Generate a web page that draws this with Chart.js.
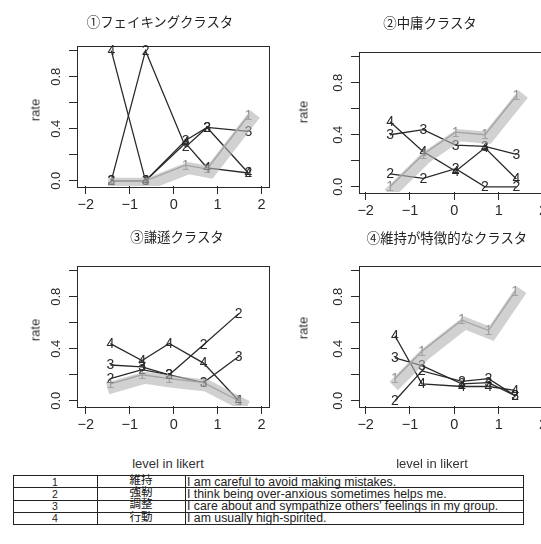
<!DOCTYPE html>
<html>
<head>
<meta charset="utf-8">
<script src="https://cdn.jsdelivr.net/npm/chart.js@4.4.1/dist/chart.umd.min.js"></script>
<style>
  html, body { margin: 0; padding: 0; background: #fff; }
  body { width: 541px; height: 544px; overflow: hidden; position: relative;
         font-family: "Liberation Sans", Arial, sans-serif; color: #222; }
  .panel { position: absolute; }
  .panel canvas { display: block; }
  .title { position: absolute; white-space: nowrap; transform: translate(-50%, -50%);
           font-family: "Noto Sans CJK JP", sans-serif; font-size: 13.4px; color: #222; }
  .ylab { position: absolute; white-space: nowrap; font-size: 13px; color: #333;
          transform: translate(-50%, -50%) rotate(-90deg); }
  .xlab { position: absolute; white-space: nowrap; font-size: 13px; color: #333;
          transform: translate(-50%, -50%); }
  .keyrow { position: absolute; left: 13px; width: 510px; height: 12.3px; }
  .cell { position: absolute; top: 0; height: 12.3px; line-height: 12.3px; white-space: nowrap;
          box-sizing: border-box; }
  .cell.id { text-align: center; font-family: "Liberation Sans Narrow", "Liberation Sans", sans-serif;
             font-size: 10.5px; top: 0.5px; }
  .cell.name { text-align: center; font-family: "Noto Sans CJK JP", sans-serif; font-size: 11.5px;
               top: -2.2px; color: #111; }
  .cell.text { padding-left: 2px; font-size: 12.3px; top: 0.5px; }
  .rule { position: absolute; background: #222; }
</style>
</head>
<body>
<script>
// Axis ticks shared by all four cluster panels
const xTickValues = [-2, -1, 0, 1, 2];
const yTickValues = [0, 0.2, 0.4, 0.6, 0.8, 1.0];
const yTickLabelled = [0, 0.4, 0.8];

const clusterTitles = ['①フェイキングクラスタ', '②中庸クラスタ', '③謙遜クラスタ', '④維持が特徴的なクラスタ'];
const itemIds = ['1', '2', '3', '4'];
const itemNames = ['維持', '強靭', '調整', '行動'];
const itemTexts = [
  'I am careful to avoid making mistakes.',
  'I think being over-anxious sometimes helps me.',
  'I care about and sympathize others\u2019 feelings in my group.',
  'I am usually high-spirited.'
];

// ① faking cluster: response rate per likert level for items 1-4
const fakingLevels = [-1.42, -0.64, 0.27, 0.76, 1.70];
const fakingItem1 = [0.00, 0.00, 0.12, 0.09, 0.50];
const fakingItem2 = [0.00, 1.00, 0.26, 0.41, 0.06];
const fakingItem3 = [0.00, 0.00, 0.31, 0.41, 0.38];
const fakingItem4 = [1.00, 0.00, 0.29, 0.10, 0.06];

// ② moderate cluster
const moderateLevels = [-1.45, -0.70, 0.03, 0.69, 1.40];
const moderateItem1 = [0.00, 0.25, 0.42, 0.40, 0.70];
const moderateItem2 = [0.10, 0.065, 0.14, 0.00, 0.00];
const moderateItem3 = [0.40, 0.44, 0.32, 0.31, 0.25];
const moderateItem4 = [0.50, 0.27, 0.12, 0.30, 0.06];

// ③ modest cluster
const modestLevels = [-1.44, -0.72, -0.10, 0.68, 1.48];
const modestItem1 = [0.13, 0.20, 0.17, 0.14, 0.00];
const modestItem2 = [0.17, 0.24, 0.20, 0.43, 0.67];
const modestItem3 = [0.275, 0.26, 0.20, 0.14, 0.34];
const modestItem4 = [0.44, 0.31, 0.44, 0.29, 0.00];

// ④ cluster characterised by "maintain"
const maintainLevels = [-1.34, -0.73, 0.17, 0.77, 1.37];
const maintainItem1 = [0.17, 0.38, 0.62, 0.54, 0.84];
const maintainItem2 = [0.00, 0.23, 0.15, 0.17, 0.04];
const maintainItem3 = [0.33, 0.27, 0.13, 0.14, 0.04];
const maintainItem4 = [0.50, 0.13, 0.11, 0.11, 0.08];

// Page geometry of each panel: canvas rectangle, plot box, x range, text anchors
const panels = [
  { levels: fakingLevels, items: [fakingItem1, fakingItem2, fakingItem3, fakingItem4],
    canvas: [0, 0, 280, 225], box: [77, 45.5, 269, 186], xr: [-2.2, 2.17],
    title: [160, 21], ylab: [35, 110], xlab: null },
  { levels: moderateLevels, items: [moderateItem1, moderateItem2, moderateItem3, moderateItem4],
    canvas: [280, 0, 290, 230], box: [359, 51.5, 551, 192], xr: [-2.15, 2.18],
    title: [430, 22], ylab: [303, 112], xlab: null },
  { levels: modestLevels, items: [modestItem1, modestItem2, modestItem3, modestItem4],
    canvas: [0, 225, 280, 225], box: [77, 265.5, 269, 406], xr: [-2.2, 2.17],
    title: [177, 236], ylab: [35, 330], xlab: [168, 463] },
  { levels: maintainLevels, items: [maintainItem1, maintainItem2, maintainItem3, maintainItem4],
    canvas: [280, 225, 290, 225], box: [359, 265.5, 551, 406], xr: [-2.15, 2.18],
    title: [447, 237], ylab: [303, 328], xlab: [432, 463] }
];

const Y_AXIS_W = 40, X_AXIS_H = 30;
const INK = '#2a2a2a';
const GREY_LINE = '#8c8c8c';
const FONT = '"Liberation Sans", Arial, sans-serif';

// Item numbers used as point symbols
const digitPlugin = {
  id: 'digits',
  afterDatasetsDraw(chart) {
    const ctx = chart.ctx;
    ctx.save();
    ctx.font = '14px ' + FONT;
    ctx.textAlign = 'center';
    ctx.textBaseline = 'middle';
    chart.data.datasets.forEach((ds, i) => {
      ctx.fillStyle = ds.borderColor;
      chart.getDatasetMeta(i).data.forEach(p => ctx.fillText(ds.label, p.x, p.y + 0.5));
    });
    ctx.restore();
  }
};

// Broad translucent band laid over the item 1 trace
const bandPlugin = {
  id: 'band',
  afterDatasetsDraw(chart) {
    const pts = chart.getDatasetMeta(0).data;
    const a = chart.chartArea;
    const ctx = chart.ctx;
    ctx.save();
    ctx.beginPath();
    ctx.rect(a.left, a.top, a.right - a.left, a.bottom - a.top);
    ctx.clip();
    ctx.translate(3, 3);
    ctx.beginPath();
    pts.forEach((p, i) => i ? ctx.lineTo(p.x, p.y) : ctx.moveTo(p.x, p.y));
    ctx.lineWidth = 12;
    ctx.lineCap = 'square';
    ctx.lineJoin = 'miter';
    ctx.strokeStyle = 'rgba(178,178,178,0.6)';
    ctx.stroke();
    ctx.restore();
  }
};

// Frame round the plot region
const framePlugin = {
  id: 'frame',
  afterDraw(chart) {
    const a = chart.chartArea, ctx = chart.ctx;
    ctx.save();
    ctx.strokeStyle = INK;
    ctx.lineWidth = 1;
    ctx.strokeRect(Math.round(a.left) + 0.5, Math.round(a.top) + 0.5,
                   Math.round(a.right - a.left), Math.round(a.bottom - a.top));
    ctx.restore();
  }
};

function addText(cls, text, pos) {
  const d = document.createElement('div');
  d.className = cls;
  d.textContent = text;
  d.style.left = pos[0] + 'px';
  d.style.top = pos[1] + 'px';
  document.body.appendChild(d);
}

function tickGrid() {
  return { display: true, drawOnChartArea: false, drawTicks: true, tickLength: 8,
           color: INK, lineWidth: 1 };
}

panels.forEach((p, k) => {
  const [cx, cy, cw, ch] = p.canvas;
  const [bl, bt, br, bb] = p.box;
  const div = document.createElement('div');
  div.className = 'panel';
  div.style.left = cx + 'px';
  div.style.top = cy + 'px';
  const cv = document.createElement('canvas');
  cv.width = cw; cv.height = ch;
  cv.style.width = cw + 'px'; cv.style.height = ch + 'px';
  div.appendChild(cv);
  document.body.appendChild(div);

  const datasets = p.items.map((vals, i) => ({
    label: itemIds[i],
    data: p.levels.map((x, j) => ({ x: x, y: vals[j] })),
    borderColor: i === 0 ? GREY_LINE : INK,
    borderWidth: 1.3,
    pointRadius: 0,
    tension: 0,
    fill: false
  }));

  new Chart(cv, {
    type: 'line',
    data: { datasets: datasets },
    plugins: [digitPlugin, bandPlugin, framePlugin],
    options: {
      responsive: false,
      animation: false,
      devicePixelRatio: 1,
      layout: { padding: {
        left: bl - cx - Y_AXIS_W,
        top: bt - cy,
        right: cx + cw - br,
        bottom: cy + ch - bb - X_AXIS_H
      } },
      plugins: { legend: { display: false }, tooltip: { enabled: false }, title: { display: false } },
      scales: {
        x: {
          type: 'linear', position: 'bottom', min: p.xr[0], max: p.xr[1],
          afterBuildTicks: s => { s.ticks = xTickValues.map(v => ({ value: v })); },
          afterFit: s => { s.height = X_AXIS_H; },
          grid: tickGrid(),
          border: { display: false },
          ticks: { autoSkip: false, maxRotation: 0, padding: 2, color: INK,
                   font: { size: 14.5, family: FONT },
                   callback: v => (v < 0 ? '\u2212' + Math.abs(v) : String(v)) }
        },
        y: {
          type: 'linear', position: 'left', min: -0.04, max: 1.04,
          afterBuildTicks: s => { s.ticks = yTickValues.map(v => ({ value: v })); },
          afterFit: s => { s.width = Y_AXIS_W; },
          grid: tickGrid(),
          border: { display: false },
          ticks: { autoSkip: false, minRotation: 90, maxRotation: 90, crossAlign: 'center',
                   padding: 4, color: INK, font: { size: 13, family: FONT },
                   callback: v => (yTickLabelled.includes(v) ? v.toFixed(1) : '') }
        }
      }
    }
  });

  addText('title', clusterTitles[k], p.title);
  addText('ylab', 'rate', p.ylab);
  if (p.xlab) addText('xlab', 'level in likert', p.xlab);
});

// Item key table: four rows of id, short name and item wording
const keyTop = 475, rowH = 12.3, keyLeft = 13, colEdges = [0, 84, 172, 510];
itemIds.forEach((id, i) => {
  const row = document.createElement('div');
  row.className = 'keyrow';
  row.style.top = (keyTop + i * rowH) + 'px';
  [[id, 'id'], [itemNames[i], 'name'], [itemTexts[i], 'text']].forEach(([t, c], j) => {
    const cell = document.createElement('div');
    cell.className = 'cell ' + c;
    cell.style.left = colEdges[j] + 'px';
    cell.style.width = (colEdges[j + 1] - colEdges[j]) + 'px';
    cell.textContent = t;
    row.appendChild(cell);
  });
  document.body.appendChild(row);
});
function rule(x, y, w, h) {
  const r = document.createElement('div');
  r.className = 'rule';
  Object.assign(r.style, { left: x + 'px', top: y + 'px', width: w + 'px', height: h + 'px' });
  document.body.appendChild(r);
}
for (let i = 0; i <= itemIds.length; i++) rule(keyLeft, Math.round(keyTop + i * rowH), 510, 1);
colEdges.forEach(e => rule(keyLeft + e, keyTop, 1, Math.round(itemIds.length * rowH) + 1));
</script>
</body>
</html>
